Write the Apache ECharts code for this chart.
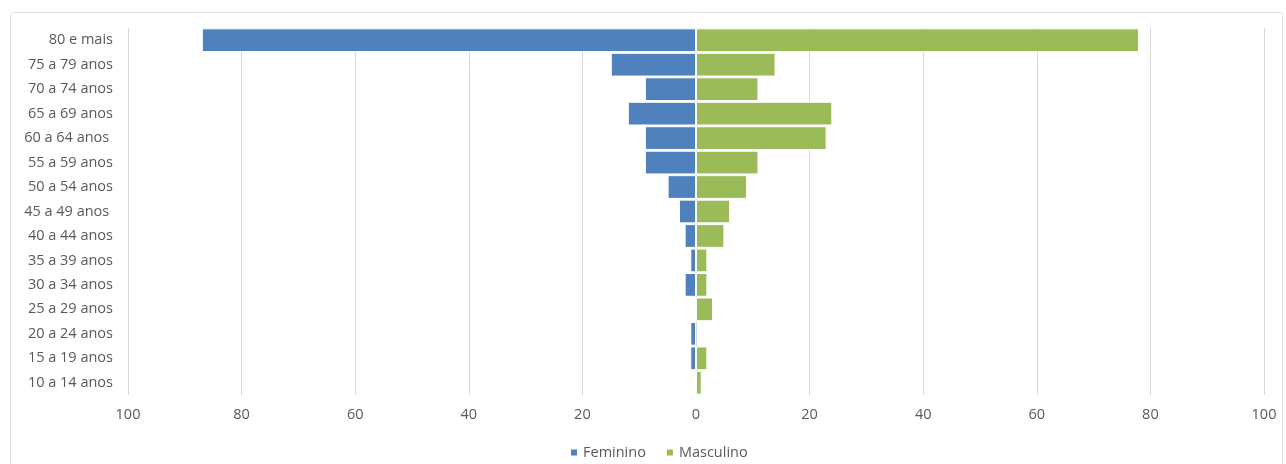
<!DOCTYPE html>
<html>
<head>
<meta charset="utf-8">
<script src="https://cdn.jsdelivr.net/npm/echarts@6/dist/echarts.min.js"></script>
<style>html,body{margin:0;padding:0;background:#fff;}#c{width:1286px;height:464px;}</style>
</head>
<body>
<div id="c"></div>
<script>
var categories = ['10 a 14 anos','15 a 19 anos','20 a 24 anos','25 a 29 anos','30 a 34 anos','35 a 39 anos','40 a 44 anos','45 a 49 anos ','50 a 54 anos','55 a 59 anos','60 a 64 anos ','65 a 69 anos','70 a 74 anos','75 a 79 anos','80 e mais'];
var feminino = [0, 1, 1, 0, 2, 1, 2, 3, 5, 9, 9, 12, 9, 15, 87];
var masculino = [1, 2, 0, 3, 2, 2, 5, 6, 9, 11, 23, 24, 11, 14, 78];
var xTicks = [-100, -80, -60, -40, -20, 0, 20, 40, 60, 80, 100];

var chart = echarts.init(document.getElementById('c'));
var fontFam = '"Open Sans", "Noto Sans", sans-serif';
chart.setOption({
  animation: false,
  backgroundColor: '#ffffff',
  graphic: [{
    type: 'rect', left: 8, top: 10, shape: {width: 1272, height: 460, r: 2},
    style: {fill: 'none', stroke: '#e3e3e3', lineWidth: 1}, silent: true
  }],
  grid: {left: 128, right: 22, top: 28, bottom: 69},
  legend: {
    data: ['Feminino', 'Masculino'],
    left: 564, top: 440,
    itemWidth: 8, itemHeight: 8, itemGap: 19, icon: 'rect',
    textStyle: {color: '#595959', fontSize: 14.5, fontFamily: fontFam}
  },
  xAxis: {
    type: 'value', min: xTicks[0], max: xTicks[xTicks.length - 1], interval: 20,
    axisLine: {show: false}, axisTick: {show: false},
    splitLine: {lineStyle: {color: '#d9d9d9', width: 1}},
    axisLabel: {color: '#595959', fontSize: 14.5, fontFamily: fontFam, margin: 12,
      formatter: function (v) { return Math.abs(v); }}
  },
  yAxis: {
    type: 'category', data: categories,
    axisLine: {show: false}, axisTick: {show: false},
    axisLabel: {color: '#595959', fontSize: 14.5, fontFamily: fontFam, margin: 15}
  },
  series: [{
    name: 'Feminino', type: 'bar', stack: 'p', barCategoryGap: '3%',
    data: feminino.map(function (v) { return -v; }),
    itemStyle: {color: '#4f81bd', borderColor: '#ffffff', borderWidth: 1}
  }, {
    name: 'Masculino', type: 'bar', stack: 'p', barCategoryGap: '3%',
    data: masculino,
    itemStyle: {color: '#9bbb59', borderColor: '#ffffff', borderWidth: 1}
  }]
});
</script>
</body>
</html>
